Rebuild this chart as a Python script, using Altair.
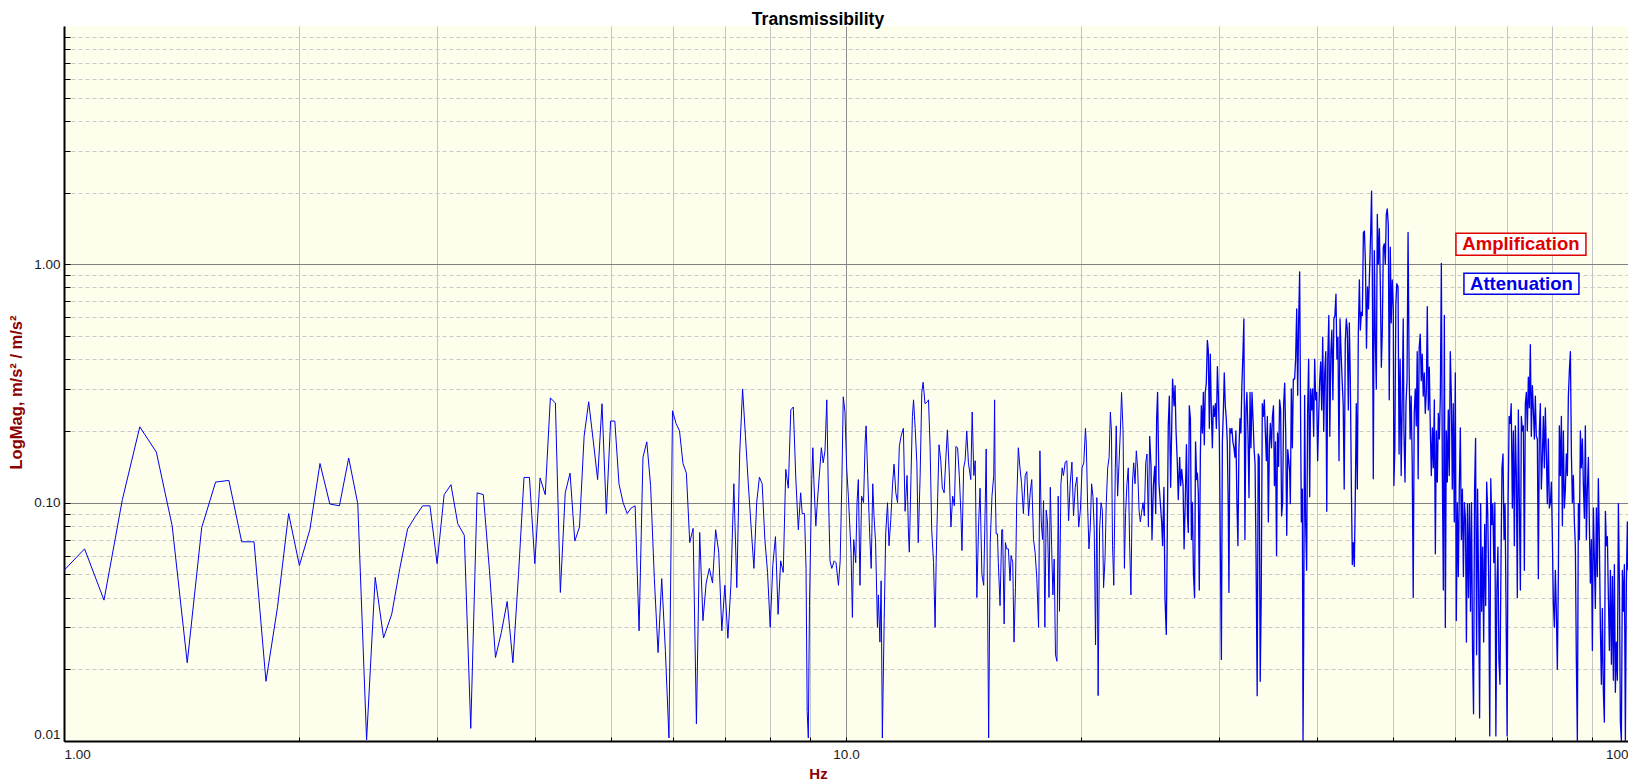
import altair as alt
import pandas as pd

# ---------------- data ----------------
FREQ_A = [1.0, 1.0625, 1.125, 1.1875, 1.25, 1.3125, 1.375, 1.4375, 1.5, 1.5625,
          1.625, 1.6875, 1.75, 1.8125, 1.875, 1.9375, 2.0, 2.0625, 2.125, 2.1875,
          2.25, 2.3125, 2.375, 2.4375, 2.5, 2.5625, 2.625, 2.6875, 2.75, 2.8125,
          2.875, 2.9375, 3.0, 3.0625, 3.125, 3.1875, 3.25, 3.3125, 3.375, 3.4375,
          3.5, 3.5625, 3.625, 3.6875, 3.75, 3.8125, 3.875, 3.9375, 4.0, 4.0625,
          4.125, 4.1875, 4.25, 4.3125, 4.375, 4.4375, 4.5, 4.5625, 4.625, 4.6875,
          4.75, 4.8125, 4.875, 4.9375, 5.0, 5.0625, 5.125, 5.1875, 5.25, 5.3125,
          5.375, 5.4375, 5.5, 5.5625, 5.625, 5.6875, 5.75, 5.8125, 5.875, 5.9375,
          6.0, 6.0625, 6.125, 6.1875, 6.25, 6.3125, 6.375, 6.4375, 6.5, 6.5625,
          6.625, 6.6875, 6.75, 6.8125, 6.875, 6.9375, 7.0, 7.0625, 7.125, 7.1875,
          7.25, 7.3125, 7.375, 7.4375, 7.5, 7.5625, 7.625, 7.6875, 7.75, 7.8125,
          7.875, 7.9375, 8.0, 8.0625, 8.125, 8.1875, 8.25, 8.3125, 8.375, 8.4375,
          8.5, 8.5625, 8.625]
MAG_A = [0.052, 0.064, 0.039, 0.103, 0.208, 0.163, 0.080, 0.0213, 0.0785, 0.122,
         0.124, 0.0685, 0.0685, 0.0178, 0.0364, 0.090, 0.0545, 0.077, 0.146, 0.0987,
         0.097, 0.154, 0.099, 0.0101, 0.0486, 0.0271, 0.0341, 0.0528, 0.0775, 0.0873,
         0.097, 0.097, 0.0555, 0.108, 0.119, 0.0818, 0.073, 0.0113, 0.110, 0.108,
         0.052, 0.0224, 0.0286, 0.0385, 0.0213, 0.05, 0.1276, 0.1276, 0.0555, 0.127,
         0.108, 0.275, 0.262, 0.042, 0.11, 0.133, 0.069, 0.079, 0.19, 0.265,
         0.183, 0.125, 0.26, 0.09, 0.22, 0.22, 0.12, 0.1, 0.09, 0.095,
         0.097, 0.029, 0.155, 0.18, 0.118, 0.048, 0.0235, 0.048, 0.024, 0.0103,
         0.243, 0.215, 0.2, 0.146, 0.133, 0.068, 0.078, 0.0118, 0.075, 0.032,
         0.046, 0.053, 0.046, 0.077, 0.062, 0.029, 0.045, 0.027, 0.045, 0.12,
         0.044, 0.16, 0.30, 0.19, 0.12, 0.079, 0.053, 0.1, 0.128, 0.12,
         0.07, 0.051, 0.03, 0.055, 0.072, 0.034, 0.057, 0.051, 0.138, 0.115,
         0.245, 0.252, 0.128]

FREQ_B = [8.69, 8.75, 8.79, 8.85, 8.89, 8.92, 8.95, 8.98, 9.04, 9.07,
          9.10, 9.15, 9.19, 9.26, 9.30, 9.35, 9.40, 9.45, 9.49, 9.54,
          9.59, 9.66, 9.71, 9.78, 9.83, 9.88, 9.92, 9.97, 10.02, 10.07,
          10.15, 10.19, 10.23, 10.29, 10.33, 10.37, 10.42, 10.47, 10.53, 10.58,
          10.61, 10.66, 10.72, 10.77, 10.82, 10.86, 10.91, 10.97, 11.00, 11.05,
          11.09, 11.13, 11.19, 11.24, 11.30, 11.35, 11.41, 11.47, 11.52, 11.58,
          11.64, 11.70, 11.76, 11.84, 11.90, 11.97, 12.02, 12.05, 12.11, 12.16,
          12.20, 12.26, 12.32, 12.37, 12.44, 12.50, 12.55, 12.62, 12.70, 12.75,
          12.81, 12.87, 12.94, 13.00, 13.04, 13.10, 13.15, 13.22, 13.28, 13.35,
          13.42, 13.48, 13.56, 13.62, 13.69, 13.76, 13.82, 13.89, 13.96, 14.03,
          14.07, 14.14, 14.20, 14.27, 14.34, 14.44, 14.50, 14.57, 14.63, 14.70,
          14.78, 14.84, 14.92, 15.00, 15.07, 15.11, 15.17, 15.22, 15.29, 15.37,
          15.45, 15.49]
MAG_B = [0.077, 0.11, 0.09, 0.09, 0.053, 0.0133, 0.0103, 0.037, 0.125, 0.17,
         0.12, 0.08, 0.1, 0.14, 0.17, 0.147, 0.165, 0.27, 0.12, 0.057,
         0.053, 0.057, 0.056, 0.045, 0.057, 0.125, 0.278, 0.24, 0.14, 0.1065,
         0.062, 0.033, 0.07, 0.056, 0.1, 0.125, 0.045, 0.1065, 0.1, 0.18,
         0.21, 0.13, 0.075, 0.053, 0.12, 0.088, 0.068, 0.03, 0.041, 0.026,
         0.047, 0.0103, 0.032, 0.074, 0.1, 0.066, 0.085, 0.12, 0.145, 0.11,
         0.1, 0.172, 0.19, 0.205, 0.092, 0.13, 0.074, 0.062, 0.13, 0.23,
         0.27, 0.205, 0.147, 0.068, 0.13, 0.29, 0.32, 0.26, 0.265, 0.27,
         0.172, 0.077, 0.056, 0.03, 0.056, 0.1065, 0.175, 0.15, 0.115, 0.11,
         0.155, 0.202, 0.128, 0.079, 0.1065, 0.097, 0.172, 0.17, 0.13, 0.088,
         0.063, 0.14, 0.15, 0.2, 0.147, 0.125, 0.24, 0.13, 0.15, 0.04,
         0.083, 0.115, 0.05, 0.045, 0.1, 0.168, 0.041, 0.0103, 0.068, 0.1065,
         0.13, 0.27]

FREQ_C = [15.51, 15.56, 15.62, 15.66, 15.74, 15.82, 15.86, 15.93, 15.99, 16.05,
          16.13, 16.21, 16.26, 16.34, 16.40, 16.47, 16.53, 16.61, 16.69, 16.77,
          16.86, 16.95, 17.03, 17.12, 17.20, 17.28, 17.37, 17.45, 17.54, 17.63,
          17.70, 17.77, 17.84, 17.89, 17.96, 18.03, 18.10, 18.18, 18.25, 18.32,
          18.39, 18.46, 18.53, 18.61, 18.68, 18.75, 18.83, 18.90, 18.97, 19.07,
          19.16, 19.26, 19.35, 19.45, 19.54, 19.64, 19.74, 19.84, 19.94, 20.04,
          20.14, 20.24, 20.29, 20.37, 20.45, 20.53, 20.61, 20.69, 20.77, 20.85,
          20.93, 21.01, 21.10, 21.19, 21.27, 21.35, 21.44, 21.52, 21.61, 21.70,
          21.78, 21.85, 21.92, 22.00, 22.10, 22.16, 22.25, 22.34, 22.43, 22.51,
          22.61, 22.70, 22.78, 22.87, 22.96, 23.05, 23.14, 23.24, 23.33, 23.42,
          23.51, 23.60, 23.70, 23.79, 23.88, 23.98, 24.07, 24.17, 24.26, 24.36,
          24.45]
MAG_C = [0.128, 0.074, 0.074, 0.056, 0.037, 0.077, 0.077, 0.031, 0.068, 0.064,
         0.064, 0.047, 0.06, 0.056, 0.026, 0.044, 0.1, 0.17, 0.14, 0.12,
         0.09, 0.13, 0.135, 0.088, 0.11, 0.125, 0.07, 0.062, 0.048, 0.03,
         0.165, 0.083, 0.07, 0.102, 0.03, 0.093, 0.083, 0.04, 0.116, 0.066,
         0.041, 0.058, 0.023, 0.0216, 0.1065, 0.035, 0.12, 0.14, 0.13, 0.148,
         0.15, 0.084, 0.12, 0.148, 0.088, 0.116, 0.128, 0.079, 0.093, 0.14,
         0.147, 0.205, 0.178, 0.097, 0.064, 0.079, 0.12, 0.1065, 0.077, 0.0253,
         0.105, 0.0155, 0.077, 0.1, 0.093, 0.044, 0.058, 0.1, 0.14, 0.155,
         0.24, 0.2, 0.066, 0.045, 0.14, 0.21, 0.1065, 0.145, 0.2, 0.29,
         0.2, 0.053, 0.091, 0.12, 0.14, 0.068, 0.041, 0.12, 0.147, 0.12,
         0.165, 0.14, 0.093, 0.083, 0.091, 0.1, 0.088, 0.147, 0.16, 0.079,
         0.19]

FREQ_D = [24.55, 24.62, 24.72, 24.82, 24.89, 24.96, 25.03, 25.13, 25.23, 25.33,
          25.40, 25.50, 25.58, 25.68, 25.75, 25.83, 25.91, 26.01, 26.09, 26.16,
          26.27, 26.35, 26.42, 26.53, 26.60, 26.71, 26.79, 26.87, 26.98, 27.06,
          27.14, 27.25, 27.33, 27.40, 27.48, 27.57, 27.65, 27.73, 27.82, 27.91,
          27.99, 28.08, 28.14, 28.22, 28.30, 28.39, 28.47, 28.56, 28.64, 28.72,
          28.80, 28.89, 28.98, 29.06, 29.15, 29.23, 29.32, 29.41, 29.49, 29.58,
          29.67, 29.76, 29.85, 29.93, 30.02, 30.11, 30.20, 30.29, 30.38, 30.46,
          30.55, 30.64, 30.73, 30.82, 30.88, 30.97, 31.06, 31.15, 31.24, 31.34,
          31.43, 31.52, 31.61, 31.71, 31.80, 31.90, 31.99, 32.08, 32.18, 32.27,
          32.37, 32.47, 32.56, 32.66, 32.76, 32.86, 32.95, 33.05, 33.15, 33.25,
          33.35, 33.45, 33.56, 33.66, 33.76, 33.86, 33.96, 34.07, 34.17, 34.27,
          34.37, 34.48, 34.58, 34.68, 34.79, 34.89, 35.00, 35.10, 35.21, 35.31,
          35.42, 35.53, 35.63, 35.74, 35.85, 35.96, 36.06, 36.17, 36.28, 36.39,
          36.50, 36.61, 36.72, 36.83]
MAG_D = [0.142, 0.07, 0.118, 0.142, 0.09, 0.225, 0.29, 0.121, 0.1, 0.083,
         0.066, 0.116, 0.04, 0.028, 0.07, 0.21, 0.28, 0.116, 0.205, 0.33,
         0.255, 0.31, 0.205, 0.145, 0.103, 0.155, 0.118, 0.138, 0.118, 0.064,
         0.094, 0.175, 0.088, 0.075, 0.255, 0.225, 0.07, 0.1, 0.05, 0.04,
         0.18, 0.125, 0.133, 0.11, 0.043, 0.16, 0.255, 0.196, 0.29, 0.175,
         0.29, 0.317, 0.48, 0.436, 0.205, 0.42, 0.245, 0.17, 0.255, 0.23,
         0.26, 0.205, 0.372, 0.29, 0.19, 0.066, 0.022, 0.18, 0.245, 0.35,
         0.255, 0.225, 0.18, 0.094, 0.042, 0.205, 0.196, 0.205, 0.18, 0.17,
         0.155, 0.2, 0.103, 0.066, 0.167, 0.225, 0.196, 0.31, 0.42, 0.59,
         0.07, 0.245, 0.29, 0.196, 0.105, 0.29, 0.17, 0.29, 0.225, 0.17,
         0.145, 0.058, 0.0155, 0.16, 0.155, 0.0178, 0.04, 0.26, 0.23, 0.27,
         0.2, 0.15, 0.23, 0.083, 0.175, 0.215, 0.17, 0.23, 0.255, 0.118,
         0.18, 0.06, 0.196, 0.142, 0.27, 0.245, 0.088, 0.1, 0.26, 0.317,
         0.196, 0.073, 0.167, 0.15]

FREQ_E = [36.93, 37.00, 37.11, 37.22, 37.33, 37.47, 37.58, 37.70, 37.81, 37.92,
          38.03, 38.15, 38.22, 38.33, 38.41, 38.48, 38.59, 38.70, 38.82, 38.93,
          39.05, 39.17, 39.28, 39.40, 39.51, 39.63, 39.75, 39.87, 39.98, 40.10,
          40.22, 40.34, 40.46, 40.58, 40.70, 40.82, 40.94, 41.07, 41.19, 41.31,
          41.44, 41.56, 41.69, 41.81, 41.94, 42.06, 42.19, 42.32, 42.44, 42.57,
          42.70, 42.83, 42.96, 43.10, 43.23, 43.36, 43.50, 43.63, 43.76, 43.89,
          44.02, 44.15, 44.28, 44.41, 44.54, 44.67, 44.80, 44.93, 45.07, 45.20,
          45.34, 45.47, 45.61, 45.74, 45.88, 46.02, 46.16, 46.30, 46.44, 46.58,
          46.72, 46.86, 47.00, 47.10, 47.24, 47.38, 47.52, 47.66, 47.80, 47.94,
          48.09, 48.23, 48.37, 48.51, 48.65, 48.79, 48.94, 49.08, 49.22, 49.37,
          49.51, 49.66, 49.80, 49.95, 50.10, 50.19, 50.33, 50.48, 50.62]
MAG_E = [0.135, 0.099, 0.3, 0.17, 0.33, 0.33, 0.4, 0.65, 0.282, 0.59,
         0.93, 0.19, 0.083, 0.114, 0.01, 0.026, 0.282, 0.083, 0.052, 0.237,
         0.4, 0.106, 0.3, 0.245, 0.3, 0.19, 0.4, 0.27, 0.29, 0.15,
         0.23, 0.325, 0.39, 0.245, 0.495, 0.199, 0.35, 0.43, 0.092, 0.4,
         0.61, 0.19, 0.43, 0.53, 0.27, 0.59, 0.61, 0.75, 0.4, 0.495,
         0.15, 0.59, 0.43, 0.325, 0.26, 0.114, 0.477, 0.59, 0.53, 0.245,
         0.568, 0.325, 0.12, 0.055, 0.068, 0.054, 0.106, 0.26, 0.114, 0.51,
         0.86, 0.53, 0.63, 0.61, 1.36, 1.38, 1.0, 0.445, 0.805, 0.65,
         0.93, 1.31, 2.03, 0.96, 0.126, 1.14, 0.495, 0.3, 1.62, 1.0,
         1.41, 0.805, 0.37, 0.53, 1.18, 1.22, 1.0, 1.62, 1.71, 1.46,
         0.27, 1.18, 0.568, 0.86, 0.65, 0.118, 0.167, 0.676, 0.83]

FREQ_F = [50.81, 50.96, 51.12, 51.28, 51.43, 51.59, 51.70, 51.86, 52.01, 52.17,
          52.33, 52.49, 52.65, 52.81, 52.97, 53.13, 53.29, 53.45, 53.61, 53.76,
          53.91, 54.07, 54.24, 54.40, 54.56, 54.72, 54.89, 55.05, 55.22, 55.38,
          55.55, 55.71, 55.88, 56.04, 56.21, 56.37, 56.54, 56.71, 56.87, 57.04,
          57.21, 57.38, 57.55, 57.72, 57.89, 58.06, 58.23, 58.40, 58.57, 58.74,
          58.91, 59.08, 59.26, 59.44, 59.61, 59.78, 59.96, 60.14, 60.32, 60.50,
          60.68, 60.86, 61.04, 61.22, 61.41, 61.59, 61.77, 61.96, 62.14, 62.33,
          62.52, 62.70, 62.89, 63.08, 63.27, 63.46, 63.65, 63.84, 64.03, 64.22,
          64.41, 64.60, 64.80, 64.99, 65.18, 65.38, 65.57, 65.77, 65.96, 66.16,
          66.36, 66.56, 66.76, 66.96, 67.16, 67.36, 67.57, 67.77, 67.97, 68.18,
          68.38, 68.59, 68.80, 69.00, 69.21, 69.42, 69.63, 69.84, 70.05, 70.26,
          70.47, 70.68, 70.90]
MAG_F = [0.805, 0.16, 0.4, 0.13, 0.26, 0.59, 0.2, 0.122, 0.26, 0.325,
         1.36, 0.37, 0.185, 0.28, 0.15, 0.04, 0.237, 0.3, 0.21, 0.43,
         0.126, 0.445, 0.51, 0.325, 0.42, 0.28, 0.35, 0.237, 0.29, 0.665,
         0.245, 0.37, 0.2, 0.13, 0.206, 0.14, 0.27, 0.061, 0.2, 0.122,
         0.237, 0.185, 0.28, 1.01, 0.13, 0.043, 0.61, 0.03, 0.2, 0.122,
         0.245, 0.13, 0.43, 0.28, 0.114, 0.26, 0.083, 0.35, 0.032, 0.1,
         0.049, 0.118, 0.206, 0.07, 0.114, 0.049, 0.1, 0.086, 0.026, 0.099,
         0.04, 0.099, 0.035, 0.1, 0.024, 0.013, 0.114, 0.186, 0.023, 0.114,
         0.044, 0.0125, 0.099, 0.035, 0.065, 0.026, 0.081, 0.037, 0.122, 0.092,
         0.046, 0.0105, 0.126, 0.081, 0.099, 0.056, 0.1, 0.0105, 0.043, 0.065,
         0.022, 0.0173, 0.056, 0.14, 0.16, 0.07, 0.099, 0.035, 0.0105, 0.1,
         0.23, 0.215, 0.26]

FREQ_G = [71.14, 71.35, 71.56, 71.77, 71.98, 72.19, 72.41, 72.62, 72.84, 73.05,
          73.27, 73.48, 73.70, 73.91, 74.13, 74.35, 74.57, 74.79, 75.01, 75.23,
          75.46, 75.68, 75.90, 76.12, 76.34, 76.57, 76.80, 77.02, 77.25, 77.48,
          77.71, 77.94, 78.17, 78.40, 78.63, 78.86, 79.10, 79.33, 79.57, 79.80,
          80.04, 80.27, 80.51, 80.74, 80.98, 81.22, 81.46, 81.70, 81.95, 82.19,
          82.43, 82.67, 82.92, 83.16, 83.40, 83.65, 83.90, 84.15, 84.40, 84.65,
          84.89, 85.14, 85.39, 85.64, 85.89, 86.15, 86.41, 86.66, 86.92, 87.17,
          87.43, 87.69, 87.95, 88.20, 88.46, 88.72, 88.99, 89.25, 89.51, 89.78,
          90.04, 90.31, 90.57, 90.84, 91.10, 91.37, 91.64, 91.92, 92.19, 92.46,
          92.73, 93.01, 93.28, 93.56, 93.83, 94.11, 94.39, 94.67, 94.95, 95.23,
          95.51, 95.79, 96.07, 96.35, 96.63, 96.92, 97.21, 97.50, 97.78, 98.07,
          98.36, 98.65, 98.94, 99.23, 99.52, 99.81, 100.0]
MAG_G = [0.095, 0.2, 0.066, 0.21, 0.13, 0.04, 0.245, 0.1, 0.043, 0.23,
         0.2, 0.21, 0.052, 0.26, 0.29, 0.2, 0.336, 0.25, 0.46, 0.19,
         0.31, 0.245, 0.185, 0.28, 0.19, 0.185, 0.048, 0.2, 0.26, 0.114,
         0.155, 0.23, 0.14, 0.25, 0.16, 0.099, 0.185, 0.095, 0.1, 0.122,
         0.07, 0.038, 0.03, 0.052, 0.035, 0.02, 0.049, 0.21, 0.13, 0.23,
         0.08, 0.2, 0.095, 0.114, 0.16, 0.13, 0.28, 0.36, 0.43, 0.16,
         0.1, 0.13, 0.083, 0.066, 0.022, 0.01, 0.099, 0.07, 0.2, 0.14,
         0.185, 0.118, 0.086, 0.21, 0.07, 0.114, 0.155, 0.08, 0.046, 0.07,
         0.024, 0.095, 0.059, 0.036, 0.095, 0.049, 0.126, 0.068, 0.03, 0.0173,
         0.036, 0.016, 0.012, 0.092, 0.066, 0.072, 0.04, 0.024, 0.052, 0.021,
         0.049, 0.018, 0.055, 0.016, 0.026, 0.018, 0.099, 0.046, 0.012, 0.01,
         0.052, 0.035, 0.055, 0.01, 0.046, 0.083, 0.052]

X_TICKS = [1, 2, 3, 4, 5, 6, 7, 8, 9, 10, 20, 30, 40, 50, 60, 70, 80, 90, 100]
Y_TICKS = [0.01, 0.02, 0.03, 0.04, 0.05, 0.06, 0.07, 0.08, 0.09,
           0.1, 0.2, 0.3, 0.4, 0.5, 0.6, 0.7, 0.8, 0.9,
           1, 2, 3, 4, 5, 6, 7, 8, 9]

TITLE = ["Transmissibility"]
NOTE_TEXT = ["Amplification", "Attenuation"]
NOTE_FREQ = [72.96, 73.07]
NOTE_MAG = [1.213, 0.828]

# ---------------- build table ----------------
sparse_part = [(FREQ_A, MAG_A), (FREQ_B, MAG_B), (FREQ_C, MAG_C)]
dense_part = [(FREQ_D, MAG_D), (FREQ_E, MAG_E), (FREQ_F, MAG_F), (FREQ_G, MAG_G)]
rows = [{"freq": f, "mag": m, "part": "sparse"}
        for fs, ms in sparse_part for f, m in zip(fs, ms)]
# the dense band starts from the last sparse point so the trace stays joined
rows.append({"freq": FREQ_C[-1], "mag": MAG_C[-1], "part": "dense"})
rows += [{"freq": f, "mag": m, "part": "dense"}
         for fs, ms in dense_part for f, m in zip(fs, ms)]
df = pd.DataFrame(rows)
notes = pd.DataFrame({"text": NOTE_TEXT, "freq": NOTE_FREQ, "mag": NOTE_MAG})
title_df = pd.DataFrame({"title": TITLE})

FONT = "Liberation Sans"
W, H = 1564, 715

x_scale = alt.Scale(type="log", domain=[1, 100], nice=False)
y_scale = alt.Scale(type="log", domain=[0.01, 10], nice=False)

x_major = "datum.value == 1 || datum.value == 10 || datum.value == 100"
y_major = "datum.value == 0.1 || datum.value == 1"

x_axis = alt.Axis(
    orient="bottom", values=X_TICKS, title="Hz",
    labelExpr=f"({x_major}) ? format(datum.value, '.3r') : ''",
    labelFlush=True, labelOverlap=False, labelPadding=6,
    labelFont=FONT, labelFontSize=13.5, labelColor="#1a1a1a",
    ticks=False, tickSize=0,
    domain=True, domainColor="#000000", domainWidth=2,
    grid=True, gridWidth=1,
    gridColor={"condition": {"test": x_major, "value": "#8c8c8c"}, "value": "#c4c4c4"},
    titleFont=FONT, titleFontSize=15, titleFontWeight="bold", titleColor="#8B0000",
    titleX=754, titleY=32, titleAlign="center", titleBaseline="middle",
)
y_axis = alt.Axis(
    orient="left", values=Y_TICKS, title="LogMag, m/s\u00b2 / m/s\u00b2",
    labelExpr=f"(datum.value == 0.01 || {y_major}) ? format(datum.value, '.2f') : ''",
    labelFlush=True, labelOverlap=False, labelPadding=4,
    labelFont=FONT, labelFontSize=13.5, labelColor="#1a1a1a",
    ticks=False, tickSize=0,
    domain=True, domainColor="#000000", domainWidth=2,
    grid=True, gridWidth=1,
    gridColor={"condition": {"test": y_major, "value": "#808080"}, "value": "#c8c8c8"},
    gridDash={"condition": {"test": y_major, "value": []}, "value": [4, 3]},
    titleFont=FONT, titleFontSize=16.5, titleFontWeight="bold", titleColor="#8B0000",
    titleX=-48, titleY=366, titleAlign="center", titleBaseline="middle",
)

line = alt.Chart(df).mark_line(
    color="#0000EE", strokeJoin="round", clip=True
).encode(
    x=alt.X("freq:Q", scale=x_scale, axis=x_axis),
    y=alt.Y("mag:Q", scale=y_scale, axis=y_axis),
    detail="part:N",
    strokeWidth=alt.StrokeWidth("part:N", scale=alt.Scale(domain=["sparse", "dense"],
                                                          range=[1.0, 1.3]), legend=None),
    order="freq:Q",
)

# inward tick marks, drawn as short dashes of a second grid
tick_layer = alt.Chart(df).mark_line(strokeOpacity=0).encode(
    x=alt.X("freq:Q", scale=x_scale, axis=alt.Axis(
        orient="bottom", values=X_TICKS, labels=False, title=None, domain=False,
        ticks=False, grid=True, gridColor="#000000", gridWidth=1,
        gridDash=[0, H - 4, 4, 5000], zindex=1)),
    y=alt.Y("mag:Q", scale=y_scale, axis=alt.Axis(
        orient="left", values=Y_TICKS, labels=False, title=None, domain=False,
        ticks=False, grid=True, gridColor="#000000", gridWidth=1,
        gridDash=[6, 5000], zindex=1)),
)

box_amp = alt.Chart(notes.iloc[[0]]).mark_point(
    shape="M-1,-0.1692L1,-0.1692L1,0.1692L-1,0.1692Z", size=16900,
    filled=True, fill="#FFFFFF", fillOpacity=1, stroke="#E00000",
    strokeWidth=1.5, opacity=1,
).encode(x=alt.X("freq:Q", scale=x_scale, axis=None),
         y=alt.Y("mag:Q", scale=y_scale, axis=None))

box_att = alt.Chart(notes.iloc[[1]]).mark_point(
    shape="M-1,-0.1826L1,-0.1826L1,0.1826L-1,0.1826Z", size=13225,
    filled=True, fill="#FFFFFF", fillOpacity=1, stroke="#0000E6",
    strokeWidth=1.5, opacity=1,
).encode(x=alt.X("freq:Q", scale=x_scale, axis=None),
         y=alt.Y("mag:Q", scale=y_scale, axis=None))

note_text = alt.Chart(notes).mark_text(
    font=FONT, fontSize=18.5, fontWeight="bold", align="center", baseline="middle"
).encode(
    x=alt.X("freq:Q", scale=x_scale, axis=None),
    y=alt.Y("mag:Q", scale=y_scale, axis=None),
    text="text:N",
    color=alt.Color("text:N", scale=alt.Scale(domain=NOTE_TEXT, range=["#E00000", "#0000E6"]),
                    legend=None),
)

# chart title, centred on the page above the plot
title_text = alt.Chart(title_df).mark_text(
    font=FONT, fontSize=17.5, fontWeight="bold", color="#000000",
    align="center", baseline="alphabetic",
).encode(text="title:N", x=alt.value(754), y=alt.value(-1.5))

chart = alt.layer(line, tick_layer, box_amp, box_att, note_text, title_text).resolve_axis(
    x="independent", y="independent"
).properties(
    width=W, height=H,
    padding={"left": 56, "top": 18, "right": 0, "bottom": 40},
    autosize=alt.AutoSizeParams(type="none"),
).configure(font=FONT, background="#FFFFFF").configure_view(
    fill="#FEFEEC", stroke=None
)

chart.save("out.html", embed_options={"renderer": "svg", "actions": False})
